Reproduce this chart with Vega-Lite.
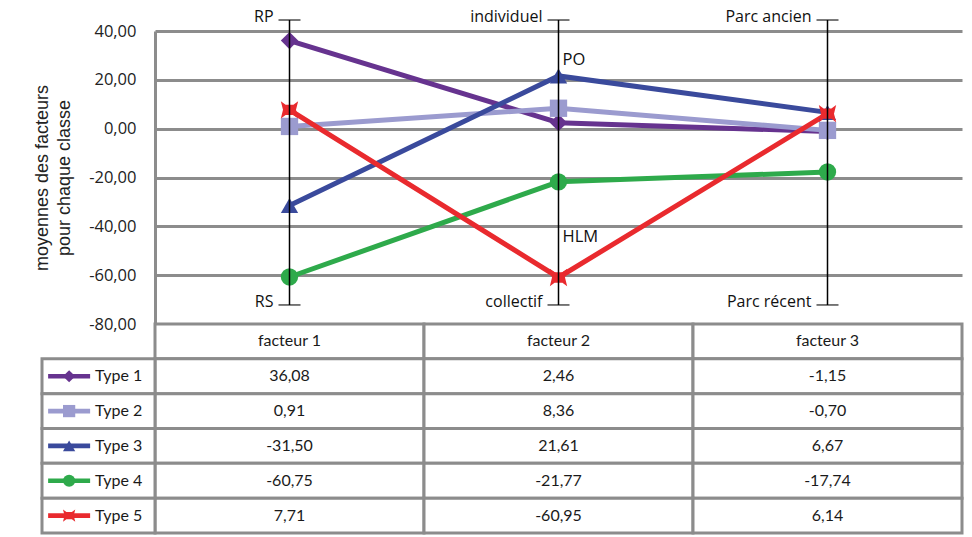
{
  "$schema": "https://vega.github.io/schema/vega-lite/v6.json",
  "width": 807,
  "height": 293,
  "autosize": "none",
  "padding": {"left": 155, "top": 31, "right": 10, "bottom": 213},
  "background": "white",
  "config": {
    "locale": {"number": {"decimal": ",", "thousands": " ", "grouping": [3], "currency": ["", " €"], "minus": "-"}},
    "view": {"stroke": null},
    "font": "Open Sans"
  },
  "datasets": {
    "valeurs": [
      {"type": "Type 1", "facteur": "facteur 1", "v": 36.08},
      {"type": "Type 1", "facteur": "facteur 2", "v": 2.46},
      {"type": "Type 1", "facteur": "facteur 3", "v": -1.15},
      {"type": "Type 2", "facteur": "facteur 1", "v": 0.91},
      {"type": "Type 2", "facteur": "facteur 2", "v": 8.36},
      {"type": "Type 2", "facteur": "facteur 3", "v": -0.70},
      {"type": "Type 3", "facteur": "facteur 1", "v": -31.50},
      {"type": "Type 3", "facteur": "facteur 2", "v": 21.61},
      {"type": "Type 3", "facteur": "facteur 3", "v": 6.67},
      {"type": "Type 4", "facteur": "facteur 1", "v": -60.75},
      {"type": "Type 4", "facteur": "facteur 2", "v": -21.77},
      {"type": "Type 4", "facteur": "facteur 3", "v": -17.74},
      {"type": "Type 5", "facteur": "facteur 1", "v": 7.71},
      {"type": "Type 5", "facteur": "facteur 2", "v": -60.95},
      {"type": "Type 5", "facteur": "facteur 3", "v": 6.14}
    ],
    "types": [
      {"type": "Type 1"}, {"type": "Type 2"}, {"type": "Type 3"}, {"type": "Type 4"}, {"type": "Type 5"}
    ],
    "facteurs": [
      {"facteur": "facteur 1", "v": 44.5, "v2": -72.2},
      {"facteur": "facteur 2", "v": 44.5, "v2": -72.2},
      {"facteur": "facteur 3", "v": 44.5, "v2": -72.2}
    ],
    "bornes": [
      {"facteur": "facteur 1", "v": 44.5, "label": "RP"},
      {"facteur": "facteur 1", "v": -72.2, "label": "RS"},
      {"facteur": "facteur 2", "v": 44.5, "label": "individuel"},
      {"facteur": "facteur 2", "v": -72.2, "label": "collectif"},
      {"facteur": "facteur 3", "v": 44.5, "label": "Parc ancien"},
      {"facteur": "facteur 3", "v": -72.2, "label": "Parc récent"}
    ],
    "annotations": [
      {"facteur": "facteur 2", "v": 28, "label": "PO"},
      {"facteur": "facteur 2", "v": -44.3, "label": "HLM"}
    ]
  },
  "resolve": {"scale": {"x": "independent", "y": "independent"}},
  "layer": [
    {
      "data": {"name": "valeurs"},
      "mark": {"type": "line", "strokeWidth": 5},
      "encoding": {
        "x": {"field": "facteur", "type": "nominal", "bandPosition": 0.5,
              "scale": {"type": "band", "domain": ["facteur 1", "facteur 2", "facteur 3"], "paddingInner": 0, "paddingOuter": 0},
              "axis": null},
        "y": {"field": "v", "type": "quantitative",
              "scale": {"domain": [-80, 40], "nice": false, "zero": false},
              "axis": {
                "values": [40, 20, 0, -20, -40, -60, -80],
                "format": ".2f",
                "title": ["moyennes  des facteurs", "pour chaque classe"],
                "titleFont": "Liberation Sans", "titleFontSize": 18, "titleLineHeight": 22, "titleFontWeight": "normal", "titleColor": "#222",
                "titlePadding": 15,
                "labelFont": "Open Sans", "labelFontSize": 16.5, "labelColor": "#222", "labelPadding": 19,
                "ticks": false,
                "grid": true, "gridColor": "#8c8c8c", "gridWidth": 3,
                "domain": true, "domainColor": "#8c8c8c", "domainWidth": 3
              }},
        "color": {"field": "type", "type": "nominal",
                  "scale": {"domain": ["Type 1", "Type 2", "Type 3", "Type 4", "Type 5"],
                            "range": ["#66338f", "#9b9bcf", "#3a4a9c", "#2eaa4b", "#e92a2e"]},
                  "legend": null}
      }
    },
    {
      "data": {"name": "valeurs"},
      "mark": {"type": "point", "filled": true, "opacity": 1, "size": 300},
      "encoding": {
        "x": {"field": "facteur", "type": "nominal", "bandPosition": 0.5,
              "scale": {"type": "band", "domain": ["facteur 1", "facteur 2", "facteur 3"], "paddingInner": 0, "paddingOuter": 0},
              "axis": null},
        "y": {"field": "v", "type": "quantitative", "scale": {"domain": [-80, 40], "nice": false, "zero": false}, "axis": null},
        "color": {"field": "type", "type": "nominal", "legend": null},
        "shape": {"field": "type", "type": "nominal",
                  "scale": {"domain": ["Type 1", "Type 2", "Type 3", "Type 4", "Type 5"],
                            "range": ["diamond", "square", "triangle-up", "circle", "M-1,-1L-0.45,-0.6L0.45,-0.6L1,-1L0.75,0L1,1L0.45,0.6L-0.45,0.6L-1,1L-0.75,0Z"]},
                  "legend": null}
      }
    },
    {
      "data": {"name": "facteurs"},
      "mark": {"type": "rule", "color": "black", "strokeWidth": 1.5},
      "encoding": {
        "x": {"field": "facteur", "type": "nominal", "bandPosition": 0.5,
              "scale": {"type": "band", "domain": ["facteur 1", "facteur 2", "facteur 3"], "paddingInner": 0, "paddingOuter": 0},
              "axis": null},
        "y": {"field": "v", "type": "quantitative", "scale": {"domain": [-80, 40], "nice": false, "zero": false}, "axis": null},
        "y2": {"field": "v2"}
      }
    },
    {
      "data": {"name": "bornes"},
      "mark": {"type": "tick", "color": "black", "size": 22, "thickness": 1.5, "orient": "horizontal"},
      "encoding": {
        "x": {"field": "facteur", "type": "nominal", "bandPosition": 0.5,
              "scale": {"type": "band", "domain": ["facteur 1", "facteur 2", "facteur 3"], "paddingInner": 0, "paddingOuter": 0},
              "axis": null},
        "y": {"field": "v", "type": "quantitative", "scale": {"domain": [-80, 40], "nice": false, "zero": false}, "axis": null}
      }
    },
    {
      "data": {"name": "bornes"},
      "mark": {"type": "text", "align": "right", "baseline": "middle", "dx": -16, "dy": -3, "font": "Open Sans", "fontSize": 16, "color": "#111"},
      "encoding": {
        "x": {"field": "facteur", "type": "nominal", "bandPosition": 0.5,
              "scale": {"type": "band", "domain": ["facteur 1", "facteur 2", "facteur 3"], "paddingInner": 0, "paddingOuter": 0},
              "axis": null},
        "y": {"field": "v", "type": "quantitative", "scale": {"domain": [-80, 40], "nice": false, "zero": false}, "axis": null},
        "text": {"field": "label"}
      }
    },
    {
      "data": {"name": "annotations"},
      "mark": {"type": "text", "align": "left", "baseline": "middle", "dx": 4, "font": "Open Sans", "fontSize": 16.5, "color": "#111"},
      "encoding": {
        "x": {"field": "facteur", "type": "nominal", "bandPosition": 0.5,
              "scale": {"type": "band", "domain": ["facteur 1", "facteur 2", "facteur 3"], "paddingInner": 0, "paddingOuter": 0},
              "axis": null},
        "y": {"field": "v", "type": "quantitative", "scale": {"domain": [-80, 40], "nice": false, "zero": false}, "axis": null},
        "text": {"field": "label"}
      }
    },
    {
      "data": {"name": "facteurs"},
      "mark": {"type": "rect", "fill": "white", "stroke": "#8c8c8c", "strokeWidth": 3},
      "encoding": {
        "x": {"field": "facteur", "type": "nominal",
              "scale": {"type": "band", "domain": ["facteur 1", "facteur 2", "facteur 3"], "paddingInner": 0, "paddingOuter": 0},
              "axis": null},
        "y": {"datum": "header", "type": "nominal",
              "scale": {"type": "band", "domain": ["header", "Type 1", "Type 2", "Type 3", "Type 4", "Type 5"], "range": [293, 502], "paddingInner": 0, "paddingOuter": 0},
              "axis": null}
      }
    },
    {
      "data": {"name": "facteurs"},
      "mark": {"type": "text", "font": "Lato", "fontSize": 16, "color": "#1a1a1a", "baseline": "middle"},
      "encoding": {
        "x": {"field": "facteur", "type": "nominal", "bandPosition": 0.5,
              "scale": {"type": "band", "domain": ["facteur 1", "facteur 2", "facteur 3"], "paddingInner": 0, "paddingOuter": 0},
              "axis": null},
        "y": {"datum": "header", "type": "nominal", "bandPosition": 0.5,
              "scale": {"type": "band", "domain": ["header", "Type 1", "Type 2", "Type 3", "Type 4", "Type 5"], "range": [293, 502], "paddingInner": 0, "paddingOuter": 0},
              "axis": null},
        "text": {"field": "facteur"}
      }
    },
    {
      "data": {"name": "valeurs"},
      "mark": {"type": "rect", "fill": "white", "stroke": "#8c8c8c", "strokeWidth": 3},
      "encoding": {
        "x": {"field": "facteur", "type": "nominal",
              "scale": {"type": "band", "domain": ["facteur 1", "facteur 2", "facteur 3"], "paddingInner": 0, "paddingOuter": 0},
              "axis": null},
        "y": {"field": "type", "type": "nominal",
              "scale": {"type": "band", "domain": ["header", "Type 1", "Type 2", "Type 3", "Type 4", "Type 5"], "range": [293, 502], "paddingInner": 0, "paddingOuter": 0},
              "axis": null}
      }
    },
    {
      "data": {"name": "valeurs"},
      "mark": {"type": "text", "font": "Lato", "fontSize": 16, "color": "#1a1a1a", "baseline": "middle"},
      "encoding": {
        "x": {"field": "facteur", "type": "nominal", "bandPosition": 0.5,
              "scale": {"type": "band", "domain": ["facteur 1", "facteur 2", "facteur 3"], "paddingInner": 0, "paddingOuter": 0},
              "axis": null},
        "y": {"field": "type", "type": "nominal", "bandPosition": 0.5,
              "scale": {"type": "band", "domain": ["header", "Type 1", "Type 2", "Type 3", "Type 4", "Type 5"], "range": [293, 502], "paddingInner": 0, "paddingOuter": 0},
              "axis": null},
        "text": {"field": "v", "type": "quantitative", "format": ".2f"}
      }
    },
    {
      "data": {"name": "types"},
      "mark": {"type": "rect", "fill": "white", "stroke": "#8c8c8c", "strokeWidth": 3},
      "encoding": {
        "x": {"datum": "legende", "type": "nominal",
              "scale": {"type": "band", "domain": ["legende"], "range": [-113, 0], "paddingInner": 0, "paddingOuter": 0},
              "axis": null},
        "y": {"field": "type", "type": "nominal",
              "scale": {"type": "band", "domain": ["header", "Type 1", "Type 2", "Type 3", "Type 4", "Type 5"], "range": [293, 502], "paddingInner": 0, "paddingOuter": 0},
              "axis": null}
      }
    },
    {
      "data": {"name": "types"},
      "mark": {"type": "point", "filled": true, "opacity": 1, "size": 1764, "shape": "M-1,-0.11L1,-0.11L1,0.11L-1,0.11Z"},
      "encoding": {
        "x": {"datum": "legende", "type": "nominal", "bandPosition": 0.24,
              "scale": {"type": "band", "domain": ["legende"], "range": [-113, 0], "paddingInner": 0, "paddingOuter": 0},
              "axis": null},
        "y": {"field": "type", "type": "nominal", "bandPosition": 0.5,
              "scale": {"type": "band", "domain": ["header", "Type 1", "Type 2", "Type 3", "Type 4", "Type 5"], "range": [293, 502], "paddingInner": 0, "paddingOuter": 0},
              "axis": null},
        "color": {"field": "type", "type": "nominal", "legend": null}
      }
    },
    {
      "data": {"name": "types"},
      "mark": {"type": "point", "filled": true, "opacity": 1, "size": 150},
      "encoding": {
        "x": {"datum": "legende", "type": "nominal", "bandPosition": 0.24,
              "scale": {"type": "band", "domain": ["legende"], "range": [-113, 0], "paddingInner": 0, "paddingOuter": 0},
              "axis": null},
        "y": {"field": "type", "type": "nominal", "bandPosition": 0.5,
              "scale": {"type": "band", "domain": ["header", "Type 1", "Type 2", "Type 3", "Type 4", "Type 5"], "range": [293, 502], "paddingInner": 0, "paddingOuter": 0},
              "axis": null},
        "color": {"field": "type", "type": "nominal", "legend": null},
        "shape": {"field": "type", "type": "nominal", "legend": null}
      }
    },
    {
      "data": {"name": "types"},
      "mark": {"type": "text", "align": "left", "baseline": "middle", "font": "Lato", "fontSize": 16, "color": "#1a1a1a"},
      "encoding": {
        "x": {"datum": "legende", "type": "nominal", "bandPosition": 0.47,
              "scale": {"type": "band", "domain": ["legende"], "range": [-113, 0], "paddingInner": 0, "paddingOuter": 0},
              "axis": null},
        "y": {"field": "type", "type": "nominal", "bandPosition": 0.5,
              "scale": {"type": "band", "domain": ["header", "Type 1", "Type 2", "Type 3", "Type 4", "Type 5"], "range": [293, 502], "paddingInner": 0, "paddingOuter": 0},
              "axis": null},
        "text": {"field": "type"}
      }
    }
  ]
}
